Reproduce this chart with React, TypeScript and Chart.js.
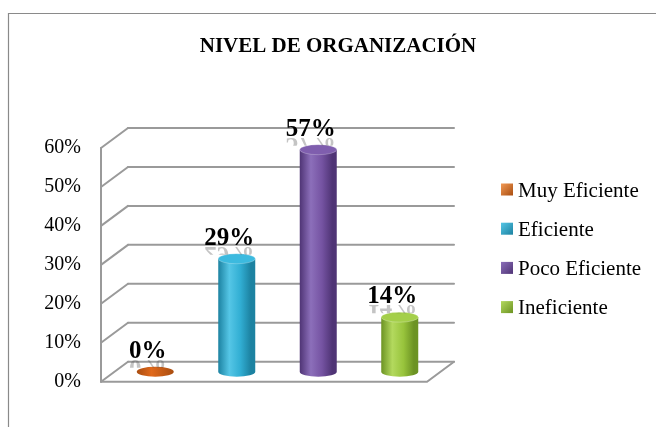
import { useEffect, useRef } from "react";
import { Chart, registerables } from "chart.js";

Chart.register(...registerables);

const TITLE = "NIVEL DE ORGANIZACIÓN";
const categories = ["Muy Eficiente", "Eficiente", "Poco Eficiente", "Ineficiente"];
const values = [0, 29, 57, 14];
const valueLabels = ["0%", "29%", "57%", "14%"];
const tickValues = [0, 10, 20, 30, 40, 50, 60];
const baseColors = ["#E0691C", "#31AED3", "#7553A2", "#98C43C"];
const lightColors = ["#F29A55", "#55C6E6", "#8C6FBA", "#B3D95E"];
const darkColors = ["#A94D10", "#1C82A1", "#4F3475", "#6C9323"];
const topColors = ["#EE8A44", "#3CBADF", "#7F5EAE", "#A4CF4A"];

const SERIF = "'Liberation Serif', 'Times New Roman', serif";
const DX = 27;
const DY = 20;
const GRID = "#9a9a9a";

function drawCylinder(ctx: CanvasRenderingContext2D, cx: number, top: number, base: number, w: number, i: number) {
  const l = cx - w / 2;
  const r = cx + w / 2;
  const ry = 5;
  const g = ctx.createLinearGradient(l, 0, r, 0);
  g.addColorStop(0, darkColors[i]);
  g.addColorStop(0.3, lightColors[i]);
  g.addColorStop(0.6, baseColors[i]);
  g.addColorStop(0.88, darkColors[i]);
  g.addColorStop(1, darkColors[i]);
  ctx.save();
  if (base - top > 0.5) {
    ctx.beginPath();
    ctx.moveTo(l, top);
    ctx.lineTo(l, base);
    ctx.ellipse(cx, base, w / 2, ry, 0, Math.PI, 0, true);
    ctx.lineTo(r, top);
    ctx.closePath();
    ctx.fillStyle = g;
    ctx.fill();
    ctx.beginPath();
    ctx.ellipse(cx, top, w / 2, ry, 0, 0, Math.PI * 2);
    ctx.fillStyle = topColors[i];
    ctx.fill();
    ctx.strokeStyle = "rgba(255,255,255,0.25)";
    ctx.lineWidth = 1;
    ctx.stroke();
  } else {
    ctx.beginPath();
    ctx.ellipse(cx, base, w / 2, ry, 0, 0, Math.PI * 2);
    const g2 = ctx.createLinearGradient(l, 0, r, 0);
    g2.addColorStop(0, darkColors[i]);
    g2.addColorStop(0.4, baseColors[i]);
    g2.addColorStop(1, darkColors[i]);
    ctx.fillStyle = g2;
    ctx.fill();
  }
  ctx.restore();
}

const cylinderPlugin = {
  id: "cyl3d",
  beforeDatasetsDraw(chart: any) {
    const ctx: CanvasRenderingContext2D = chart.ctx;
    const { left, right, top, bottom } = chart.chartArea;
    const ys = chart.scales.y;
    ctx.save();
    ctx.strokeStyle = GRID;
    ctx.lineWidth = 2;
    ctx.lineCap = "round";
    tickValues.forEach((v) => {
      const yf = ys.getPixelForValue(v);
      ctx.beginPath();
      ctx.moveTo(left + DX, yf - DY);
      ctx.lineTo(right + DX, yf - DY);
      ctx.stroke();
      ctx.beginPath();
      ctx.moveTo(left, yf);
      ctx.lineTo(left + DX, yf - DY);
      ctx.stroke();
    });
    ctx.beginPath();
    ctx.moveTo(left, top);
    ctx.lineTo(left, bottom);
    ctx.stroke();
    ctx.beginPath();
    ctx.moveTo(left, bottom);
    ctx.lineTo(right, bottom);
    ctx.lineTo(right + DX, bottom - DY);
    ctx.stroke();
    ctx.restore();
  },
  beforeDatasetDraw() {
    return false;
  },
  afterDatasetsDraw(chart: any) {
    const ctx: CanvasRenderingContext2D = chart.ctx;
    const meta = chart.getDatasetMeta(0);
    meta.data.forEach((el: any, i: number) => {
      const p = el.getProps(["x", "y", "base", "width"], true);
      const cx = p.x + DX / 2;
      const top = p.y - DY / 2;
      const base = p.base - DY / 2;
      drawCylinder(ctx, cx, top, base, p.width, i);
    });
    ctx.save();
    ctx.font = `bold 25px ${SERIF}`;
    ctx.textAlign = "center";
    ctx.textBaseline = "alphabetic";
    meta.data.forEach((el: any, i: number) => {
      const p = el.getProps(["x", "y"], true);
      const lx = p.x + DX / 2 - 7.5;
      const by = p.y - DY / 2 - 14;
      ctx.save();
      ctx.beginPath();
      ctx.rect(lx - 40, by + 1, 80, 9);
      ctx.clip();
      ctx.translate(0, 2 * by + 2);
      ctx.scale(1, -1);
      ctx.globalAlpha = 0.35;
      ctx.fillStyle = "#555";
      ctx.fillText(valueLabels[i], lx, by);
      ctx.restore();
      ctx.fillStyle = "#000";
      ctx.fillText(valueLabels[i], lx, by);
    });
    ctx.restore();
  },
  afterDraw(chart: any) {
    const ctx: CanvasRenderingContext2D = chart.ctx;
    ctx.save();
    ctx.strokeStyle = "#8a8a8a";
    ctx.lineWidth = 1.2;
    ctx.beginPath();
    ctx.moveTo(8.5, 427);
    ctx.lineTo(8.5, 13.5);
    ctx.lineTo(656, 13.5);
    ctx.stroke();
    ctx.fillStyle = "#000";
    ctx.font = `bold 21px ${SERIF}`;
    ctx.textAlign = "center";
    ctx.textBaseline = "alphabetic";
    ctx.fillText(TITLE, 338, 52);
    ctx.font = `21px ${SERIF}`;
    ctx.textAlign = "left";
    categories.forEach((c, i) => {
      const cy = 189.5 + i * 39.2;
      const g = ctx.createLinearGradient(501, cy - 6, 513, cy + 6);
      g.addColorStop(0, lightColors[i]);
      g.addColorStop(1, darkColors[i]);
      ctx.fillStyle = g;
      ctx.fillRect(501, cy - 6, 12, 12);
      ctx.fillStyle = "#000";
      ctx.fillText(c, 518, cy + 7);
    });
    ctx.restore();
  },
};

export default function App() {
  const ref = useRef<HTMLCanvasElement | null>(null);
  useEffect(() => {
    if (!ref.current) return;
    const chart = new Chart(ref.current, {
      type: "bar",
      data: {
        labels: categories,
        datasets: [
          {
            label: TITLE,
            data: values,
            backgroundColor: baseColors,
            barThickness: 37,
          },
        ],
      },
      options: {
        animation: false,
        responsive: false,
        layout: { padding: { left: 0, top: 148, right: 229, bottom: 45.3 } },
        plugins: {
          legend: { display: false },
          title: { display: false },
          tooltip: { enabled: false },
        },
        scales: {
          x: { display: false, offset: true },
          y: {
            min: 0,
            max: 60,
            afterBuildTicks: (s: any) => {
              s.ticks = tickValues.map((v) => ({ value: v }));
            },
            afterFit: (s: any) => {
              s.width = 101;
            },
            ticks: {
              padding: 20,
              color: "#000",
              font: { family: SERIF, size: 20 },
              callback: (v: any) => `${v}%`,
            },
            grid: { display: false, drawTicks: false },
            border: { display: false },
          },
        },
      },
      plugins: [cylinderPlugin],
    });
    return () => chart.destroy();
  }, []);
  return (
    <div style={{ position: "fixed", left: 0, top: 0, width: 656, height: 427, background: "#fff" }}>
      <canvas ref={ref} width={656} height={427} />
    </div>
  );
}
